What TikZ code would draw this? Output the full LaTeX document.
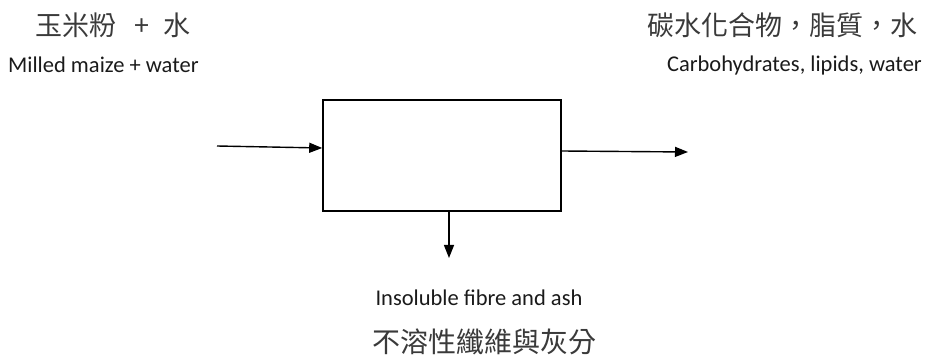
\documentclass[tikz,border=0pt]{standalone}
\usepackage{fontspec}
\setmainfont{Carlito}
\newfontfamily\cjk{Noto Sans CJK TC}
\usetikzlibrary{arrows.meta}
\definecolor{cjkgray}{HTML}{3A3A3A}
\definecolor{entext}{HTML}{1A1A1A}
\tikzset{
  cjklabel/.style={inner sep=0pt, text=cjkgray, font=\cjk\fontsize{27}{31}\selectfont},
  enlabel/.style={inner sep=0pt, text=entext, font=\fontsize{22.5}{26}\selectfont},
  flow/.style={line width=1.4pt, -{Triangle[length=13pt,width=10pt]}},
  unit/.style={draw, line width=1.6pt, minimum width=238pt, minimum height=111pt, inner sep=0pt}
}
\begin{document}
\begin{tikzpicture}[x=1pt,y=-1pt]
\useasboundingbox (0,0) rectangle (929,358);
\node[unit] (box) at (442,155.5) {};
\node[cjklabel, anchor=west] (t1) at (35,25) {玉米粉\hspace{18pt}+\hspace{14pt}水};
\node[enlabel, anchor=west] (e1) at (8,65) {Milled maize + water};
\node[cjklabel, anchor=east] (t2) at (918,25) {碳水化合物，脂質，水};
\node[enlabel, anchor=east] (e2) at (922,66) {Carbohydrates, lipids, water};
\node[enlabel] (e3) at (479,298) {Insoluble fibre and ash};
\node[cjklabel, font=\cjk\fontsize{28}{32}\selectfont] (t3) at (484,342) {不溶性纖維與灰分};
\coordinate (inS) at (217,146);
\coordinate (outE) at (688,152);
\coordinate (botE) at (449,258);
\draw[flow] (inS) -- ([yshift=7.5pt]box.west);
\draw[flow] ([yshift=4.5pt]box.east) -- (outE);
\draw[flow] (box.south -| botE) -- (botE);
\end{tikzpicture}
\end{document}
